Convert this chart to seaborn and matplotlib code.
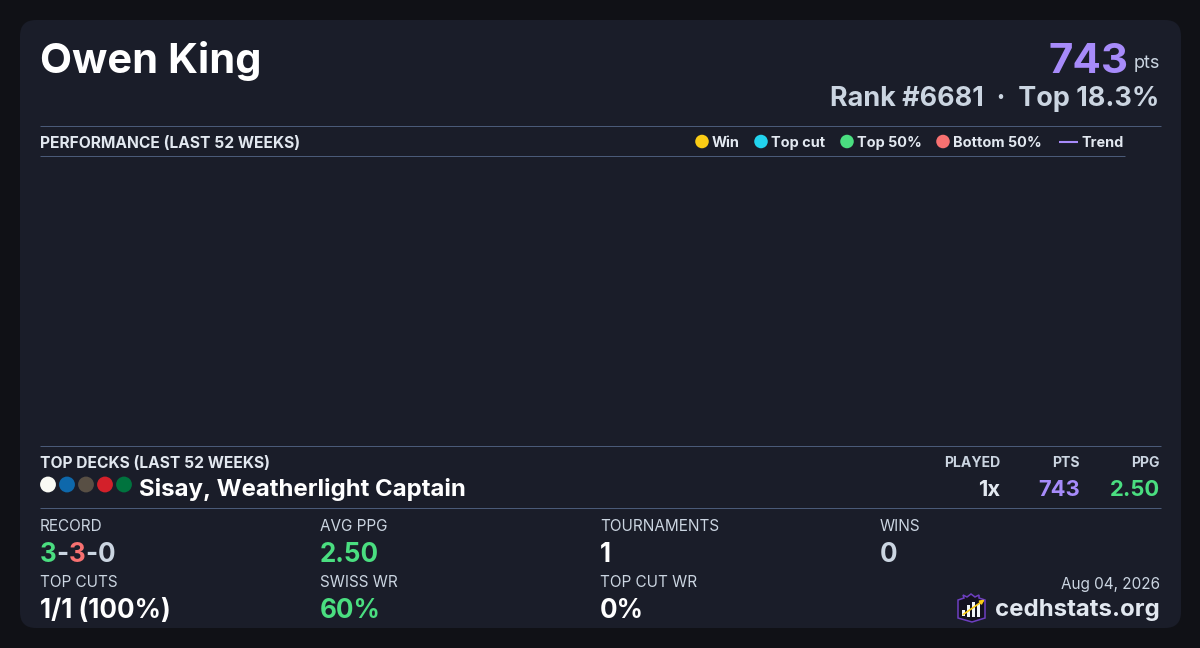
import matplotlib
matplotlib.use('Agg')
import matplotlib.pyplot as plt
from matplotlib.patches import FancyBboxPatch, Polygon, Rectangle
import pandas as pd
import seaborn as sns

sns.set_theme(style='dark')
plt.rcParams['font.family'] = ['Inter', 'DejaVu Sans']

# chart values: the performance plot of this card has no events
weeks = []
results = []

legend_labels = ['Win', 'Top cut', 'Top 50%', 'Bottom 50%']
legend_colors = ['#facc15', '#22d3ee', '#4ade80', '#f87171']
legend_dot_x = [702, 761, 847, 943]
legend_text_x = [712, 771, 857, 953]
mana_colors = ['#f9faf4', '#0e68ab', '#584f44', '#d3202a', '#00733e']
mana_x = [48, 67, 86, 105, 124]

BG = '#101116'
CARD = '#1a1d29'
RULE = '#4a5a78'
LABEL = '#cbd5e1'
LIGHT = '#e2e8f0'
WHITE = '#ffffff'
GREEN = '#4ade80'
RED = '#f87171'
PURPLE = '#a78bfa'


def px(size):
    # font size given in pixels
    return size * 0.72


def put(ax, x, y, s, size, color, weight=400, ha='left'):
    return ax.text(x, y, s, fontsize=px(size), color=color, fontweight=weight,
                   ha=ha, va='baseline')


def put_parts(ax, x, y, parts, size, weight=700):
    # text in several colours, one piece after the other
    renderer = ax.figure.canvas.get_renderer()
    for s, color in parts:
        t = put(ax, x, y, s, size, color, weight)
        x += t.get_window_extent(renderer).width


fig = plt.figure(figsize=(12, 6.48), dpi=100, facecolor=BG)
ax = fig.add_axes([0, 0, 1, 1])
ax.set_xlim(0, 1200)
ax.set_ylim(648, 0)
ax.axis('off')

card = FancyBboxPatch((36, 36), 1129, 576, fc=CARD, ec='none')
card.set_boxstyle('round', pad=16, rounding_size=16)
ax.add_patch(card)

# header
put(ax, 40, 73, 'Owen King', 41.6, WHITE, 700)
put(ax, 1128, 73, '743', 42, PURPLE, 700, ha='right')
put(ax, 1160, 68, 'pts', 18, LABEL, 400, ha='right')
put(ax, 1159.5, 106, 'Rank #6681  ·  Top 18.3%', 27, LABEL, 700, ha='right')

# rules
for y, x_end in [(126, 1161), (156, 1125), (446, 1161), (508, 1161)]:
    ax.plot([40, x_end], [y, y], color=RULE, lw=0.72, solid_capstyle='butt')

# legend
put(ax, 40, 148, 'PERFORMANCE (LAST 52 WEEKS)', 15.6, LIGHT, 700)
legend_df = pd.DataFrame({'x': legend_dot_x, 'y': [141.5] * 4, 'label': legend_labels})
sns.scatterplot(data=legend_df, x='x', y='y', hue='label', palette=legend_colors, s=95,
                linewidth=0, legend=False, ax=ax)
for x, label in zip(legend_text_x, legend_labels):
    put(ax, x, 147, label, 14.5, LIGHT, 700)
ax.plot([1059, 1078], [141.5, 141.5], color=PURPLE, lw=1.5, solid_capstyle='butt')
put(ax, 1081, 147, 'Trend', 14.5, LIGHT, 700)

# empty performance plot
plot_ax = fig.add_axes([40 / 1200, 1 - 446 / 648, 1085 / 1200, 289 / 648])
sns.lineplot(x=weeks, y=results, ax=plot_ax)
plot_ax.axis('off')

# decks
put(ax, 40, 468, 'TOP DECKS (LAST 52 WEEKS)', 15.6, LIGHT, 700)
mana_df = pd.DataFrame({'x': mana_x, 'y': [484.5] * 5, 'c': mana_colors})
sns.scatterplot(data=mana_df, x='x', y='y', hue='c', palette=mana_colors, s=130,
                linewidth=0, legend=False, ax=ax)
put(ax, 139, 496, 'Sisay, Weatherlight Captain', 24, WHITE, 700)
put(ax, 1000, 467, 'PLAYED', 14, LABEL, 700, ha='right')
put(ax, 1080, 467, 'PTS', 14, LABEL, 700, ha='right')
put(ax, 1160, 467, 'PPG', 14, LABEL, 700, ha='right')
put(ax, 1000, 496, '1x', 22, LIGHT, 700, ha='right')
put(ax, 1080, 496, '743', 22, PURPLE, 700, ha='right')
put(ax, 1160, 496, '2.50', 22, GREEN, 700, ha='right')

# stats
put(ax, 40, 531, 'RECORD', 15.3, LABEL)
put_parts(ax, 40, 562, [('3', GREEN), ('-', LABEL), ('3', RED), ('-', LABEL), ('0', LABEL)], 26)
put(ax, 320, 531, 'AVG PPG', 15.3, LABEL)
put(ax, 320, 562, '2.50', 26, GREEN, 700)
put(ax, 600, 531, 'TOURNAMENTS', 15.3, LABEL)
put(ax, 600, 562, '1', 26, WHITE, 700)
put(ax, 880, 531, 'WINS', 15.3, LABEL)
put(ax, 880, 562, '0', 26, LABEL, 700)
put(ax, 40, 587, 'TOP CUTS', 15.3, LABEL)
put(ax, 40, 618, '1/1 (100%)', 26, WHITE, 700)
put(ax, 320, 587, 'SWISS WR', 15.3, LABEL)
put(ax, 320, 618, '60%', 26, GREEN, 700)
put(ax, 600, 587, 'TOP CUT WR', 15.3, LABEL)
put(ax, 600, 618, '0%', 26, WHITE, 700)

# footer
put(ax, 1160, 589, 'Aug 04, 2026', 15.3, LABEL, 400, ha='right')
put(ax, 1160, 616, 'cedhstats.org', 24, LIGHT, 700, ha='right')

# logo
ax.add_patch(Polygon([(958, 600), (964, 598), (963, 595), (967, 597), (971, 594), (975, 597), (979, 595),
                      (979, 598), (985, 600), (985, 618), (972, 622), (958, 618)],
                     closed=True, fc='#14121f', ec='#6d3fc0', lw=1.1))
for x, top, h in [(962, 610, 6), (967, 605, 12), (972, 602, 15), (977, 604, 13)]:
    ax.add_patch(Rectangle((x, top), 3, h, fc='#f1f5f9', ec='none'))
ax.annotate('', xy=(987, 598), xytext=(961, 616),
            arrowprops=dict(arrowstyle='-|>', color='#facc15', lw=1.2, mutation_scale=6))

fig.savefig('out.png', dpi=100, facecolor=BG)
